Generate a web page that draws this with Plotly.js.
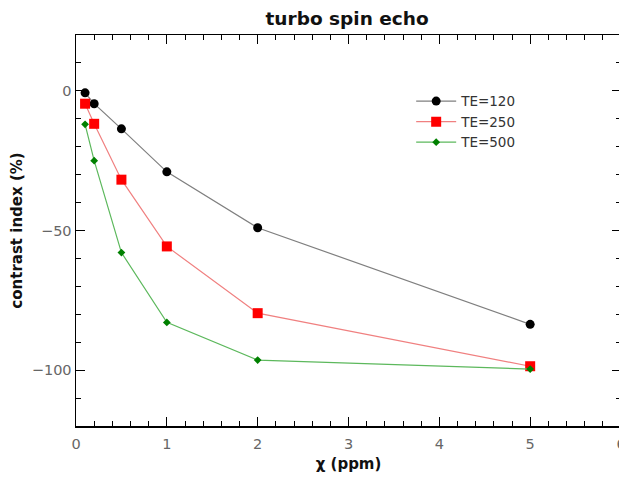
<!DOCTYPE html>
<html><head><meta charset="utf-8">
<script src="https://cdn.plot.ly/plotly-3.0.1.min.js"></script>
<style>html,body{margin:0;padding:0;overflow:hidden;background:#fff}#c{width:622px;height:477px}</style>
</head><body><div id="c"></div>
<script>
var chi = [0.1, 0.2, 0.5, 1, 2, 5];
var te120 = [-0.7, -4.6, -13.6, -29, -49, -83.6];
var te250 = [-4.6, -11.8, -31.8, -55.7, -79.6, -98.6];
var te500 = [-12, -25, -57.9, -82.9, -96.4, -99.6];
var names = ['TE=120', 'TE=250', 'TE=500'];

var traces = [
  {x: chi, y: te120, name: names[0], mode: 'lines+markers', line: {color: '#7f7f7f', width: 1.2}, marker: {color: '#000', size: 9, symbol: 'circle'}},
  {x: chi, y: te250, name: names[1], mode: 'lines+markers', line: {color: '#f08080', width: 1.2}, marker: {color: '#ff0000', size: 10, symbol: 'square'}},
  {x: chi, y: te500, name: names[2], mode: 'lines+markers', line: {color: '#5cb85c', width: 1.2}, marker: {color: '#008000', size: 6, symbol: 'diamond'}}
];
var axfont = {family: 'DejaVu Sans', size: 14.5, color: '#666'};
var layout = {
  width: 622, height: 477,
  margin: {l: 76, r: 1, t: 35, b: 51},
  paper_bgcolor: '#fff', plot_bgcolor: '#fff',
  font: {family: 'DejaVu Sans', color: '#000'},
  title: {text: '<b>turbo spin echo</b>', font: {family: 'DejaVu Sans', size: 18.5, color: '#111'}, x: 0.558, xanchor: 'center', y: 0.962, yanchor: 'middle'},
  xaxis: {range: [0, 6], dtick: 1, tick0: 0, showgrid: false, zeroline: false, showline: true, linecolor: '#000', linewidth: 1.5,
    mirror: 'ticks', ticks: 'inside', ticklen: 9, tickcolor: '#000', tickwidth: 1, tickfont: axfont, ticklabeloverflow: 'allow', ticklabelstandoff: 4,
    minor: {dtick: 0.2, ticks: 'inside', ticklen: 5, tickcolor: '#000', tickwidth: 1, showgrid: false},
    title: {text: '<b>χ (ppm)</b>', font: {family: 'DejaVu Sans', size: 15, color: '#111'}, standoff: 7}},
  yaxis: {range: [-120, 20], dtick: 50, tick0: 0, showgrid: false, zeroline: false, showline: true, linecolor: '#000', linewidth: 1.5,
    mirror: 'ticks', ticks: 'inside', ticklen: 9, tickcolor: '#000', tickwidth: 1, tickfont: axfont,
    minor: {dtick: 10, ticks: 'inside', ticklen: 5, tickcolor: '#000', tickwidth: 1, showgrid: false},
    title: {text: '<b>contrast index (%)</b>', font: {family: 'DejaVu Sans', size: 15, color: '#111'}, standoff: 5}},
  showlegend: true,
  legend: {x: 0.615, y: 0.87, xanchor: 'left', yanchor: 'top', bgcolor: 'rgba(0,0,0,0)', font: {family: 'DejaVu Sans', size: 13.5, color: '#333'}, itemwidth: 40, tracegroupgap: 0}
};
Plotly.newPlot('c', traces, layout, {displayModeBar: false, staticPlot: true});
</script></body></html>
